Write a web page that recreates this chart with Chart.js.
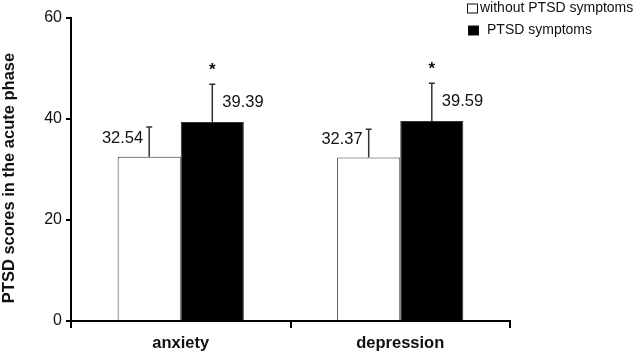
<!DOCTYPE html>
<html>
<head>
<meta charset="utf-8">
<script src="https://cdn.jsdelivr.net/npm/chart.js@4/dist/chart.umd.min.js"></script>
<style>
  html, body { margin: 0; padding: 0; background: #fff; }
  #wrap { width: 636px; height: 354px; }
</style>
</head>
<body>
<div id="wrap"><canvas id="ptsdChart"></canvas></div>
<script>
const categories = ["anxiety", "depression"];
const withoutMeans = [32.54, 32.37];
const withoutSD = [5.9, 5.6];
const withMeans = [39.39, 39.59];
const withSD = [7.5, 7.5];
const significance = ["*", "*"];
const yTicks = [0, 20, 40, 60];
const yTitle = "PTSD scores in the acute phase";

const FONT = "'Liberation Sans', Arial, sans-serif";

// error bars, value labels and asterisks on top of the bars
const annotations = {
  id: "annotations",
  afterDatasetsDraw(chart) {
    const { ctx } = chart;
    const y = chart.scales.y;
    ctx.save();
    chart.data.datasets.forEach((ds, di) => {
      const meta = chart.getDatasetMeta(di);
      meta.data.forEach((bar, i) => {
        const top = y.getPixelForValue(ds.data[i]);
        const errTop = y.getPixelForValue(ds.data[i] + ds.sd[i]);
        ctx.strokeStyle = "#333";
        ctx.lineWidth = 1.5;
        ctx.beginPath();
        ctx.moveTo(bar.x, top);
        ctx.lineTo(bar.x, errTop);
        ctx.moveTo(bar.x - 3, errTop);
        ctx.lineTo(bar.x + 3, errTop);
        ctx.stroke();

        ctx.fillStyle = "#111";
        ctx.font = "16.5px " + FONT;
        ctx.textBaseline = "middle";
        const text = ds.data[i].toFixed(2);
        if (di === 0) {
          ctx.textAlign = "right";
          ctx.fillText(text, bar.x - 6, top - 18);
        } else {
          ctx.textAlign = "left";
          ctx.fillText(text, bar.x + 10, top - 20);
          if (significance[i]) {
            ctx.textAlign = "center";
            ctx.font = "bold 17px " + FONT;
            ctx.fillText(significance[i], bar.x, errTop - 14);
          }
        }
      });
    });

    // rotated y axis title, sitting a little below the centre like the original
    ctx.translate(9, 178);
    ctx.rotate(-Math.PI / 2);
    ctx.textAlign = "center";
    ctx.textBaseline = "middle";
    ctx.fillStyle = "#111";
    ctx.font = "bold 16.5px " + FONT;
    ctx.fillText(yTitle, 0, 0);
    ctx.restore();
  },
};

// small legend stacked in the top right corner
const cornerLegend = {
  id: "cornerLegend",
  afterDraw(chart) {
    const { ctx } = chart;
    ctx.save();
    ctx.font = "14px " + FONT;
    ctx.textBaseline = "middle";
    ctx.textAlign = "left";
    chart.data.datasets.forEach((ds, di) => {
      const by = di === 0 ? 4 : 26;
      const bx = di === 0 ? 467.5 : 468.5;
      ctx.fillStyle = ds.backgroundColor;
      ctx.fillRect(bx, by, 10, 9);
      ctx.strokeStyle = "#111";
      ctx.lineWidth = 1;
      ctx.strokeRect(bx, by, 10, 9);
      ctx.fillStyle = "#111";
      ctx.fillText(ds.label, di === 0 ? 480 : 487, by + 4.5);
    });
    ctx.restore();
  },
};

new Chart(document.getElementById("ptsdChart"), {
  type: "bar",
  data: {
    labels: categories,
    datasets: [
      {
        label: "without PTSD symptoms",
        data: withoutMeans,
        sd: withoutSD,
        backgroundColor: "#ffffff",
        borderColor: "#333",
        borderWidth: 1,
      },
      {
        label: "PTSD symptoms",
        data: withMeans,
        sd: withSD,
        backgroundColor: "#000000",
        borderColor: "#333",
        borderWidth: 1,
      },
    ],
  },
  options: {
    responsive: true,
    maintainAspectRatio: false,
    animation: false,
    categoryPercentage: 0.575,
    barPercentage: 1,
    layout: {
      padding: { top: 18, right: 126, bottom: 0, left: 0 },
    },
    plugins: {
      legend: { display: false },
      tooltip: { enabled: false },
    },
    scales: {
      x: {
        border: { display: true, color: "#000", width: 2 },
        grid: {
          offset: true,
          drawOnChartArea: false,
          drawTicks: true,
          tickLength: 7,
          color: "#000",
          lineWidth: 2,
        },
        ticks: {
          color: "#111",
          padding: 6,
          font: { family: FONT, size: 16.5, weight: "bold" },
        },
        afterFit(scale) {
          scale.height = 33;
        },
      },
      y: {
        min: 0,
        max: 60,
        afterBuildTicks(scale) {
          scale.ticks = yTicks.map((v) => ({ value: v }));
        },
        border: { display: true, color: "#000", width: 2 },
        grid: {
          drawOnChartArea: false,
          drawTicks: true,
          tickLength: 5,
          color: "#000",
          lineWidth: 2,
        },
        ticks: {
          color: "#111",
          padding: 4,
          font: { family: FONT, size: 16 },
        },
        afterFit(scale) {
          scale.width = 71;
        },
      },
    },
  },
  plugins: [annotations, cornerLegend],
});
</script>
</body>
</html>
